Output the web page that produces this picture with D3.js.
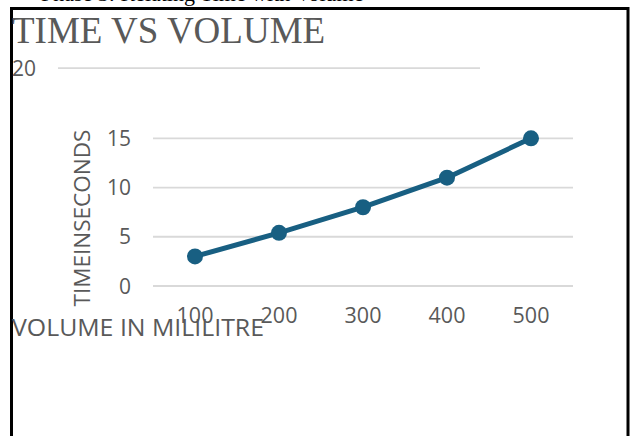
<!DOCTYPE html>
<html><head><meta charset="utf-8">
<script src="https://cdn.jsdelivr.net/npm/d3@7"></script>
<style>body{margin:0;background:#fff;}svg{display:block;}</style>
</head><body>
<script>
const categories = ["100","200","300","400","500"];
const timeSeconds = [3, 5.4, 8, 11, 15];
const yTicks = [0, 5, 10, 15, 20];
const title = "TIME VS VOLUME";
const xTitle = "VOLUME IN MILILITRE";
const yTitle = "TIMEINSECONDS";
const caption = "Phase 3: Relating Time with Volume";

const W = 633, H = 436;
const svg = d3.select("body").append("svg").attr("width", W).attr("height", H);
svg.append("rect").attr("width", W).attr("height", H).attr("fill", "#fff");

// caption cut off at top
svg.append("text").attr("x", 41).attr("y", 0.5)
  .attr("font-family", "Liberation Serif").attr("font-size", 22).attr("fill", "#000").text(caption);

// frame
svg.append("path").attr("d", `M11.5,${H+5} V8.5 H628 V${H+5}`)
  .attr("fill", "none").attr("stroke", "#000").attr("stroke-width", 3);

const x = d3.scaleBand().domain(categories).range([153, 573]);
const y = d3.scaleLinear().domain([0, 15]).range([286, 138.3]);
const textCol = "#595959";
const font = "'Open Sans', sans-serif";

svg.append("text").attr("x", 12).attr("y", 43)
  .attr("font-family", "Liberation Serif").attr("font-size", 37).attr("fill", textCol).text(title);

// gridlines + tick labels (top tick displaced as in source layout)
const topTick = d3.max(yTicks);
const yPos = v => v === topTick ? y(v) - 21 : y(v);
const g = svg.append("g");
yTicks.forEach(v => {
  const isTop = v === topTick;
  g.append("line")
    .attr("x1", isTop ? 58 : x.range()[0]).attr("x2", isTop ? 480 : x.range()[1])
    .attr("y1", yPos(v)).attr("y2", yPos(v))
    .attr("stroke", "#d9d9d9").attr("stroke-width", 1.8);
  g.append("text")
    .attr("x", isTop ? 12 : 131).attr("y", yPos(v)).attr("dy", "0.36em")
    .attr("text-anchor", isTop ? "start" : "end")
    .attr("font-family", font).attr("font-size", 21).attr("fill", textCol).text(v);
});

// x axis labels
svg.append("g").selectAll("text").data(categories).join("text")
  .attr("x", d => x(d) + x.bandwidth()/2).attr("y", 323)
  .attr("text-anchor", "middle").attr("font-family", font).attr("font-size", 21.5)
  .attr("fill", textCol).text(d => d);

// axis titles
svg.append("text").attr("x", 12).attr("y", 336)
  .attr("font-family", font).attr("font-size", 23).attr("fill", textCol)
  .attr("textLength", 252).attr("lengthAdjust", "spacingAndGlyphs").text(xTitle);
svg.append("text").attr("transform", "translate(90,218) rotate(-90)")
  .attr("text-anchor", "middle").attr("font-family", font).attr("font-size", 22.5).attr("fill", textCol)
  .text(yTitle);

// series
const data = categories.map((c, i) => ({c, v: timeSeconds[i]}));
const lineCol = "#185f82";
svg.append("path").datum(data)
  .attr("d", d3.line().x(d => x(d.c) + x.bandwidth()/2).y(d => y(d.v)))
  .attr("fill", "none").attr("stroke", lineCol).attr("stroke-width", 5).attr("stroke-linejoin", "round");
svg.append("g").selectAll("circle").data(data).join("circle")
  .attr("cx", d => x(d.c) + x.bandwidth()/2).attr("cy", d => y(d.v)).attr("r", 8)
  .attr("fill", lineCol);
</script>
</body></html>
